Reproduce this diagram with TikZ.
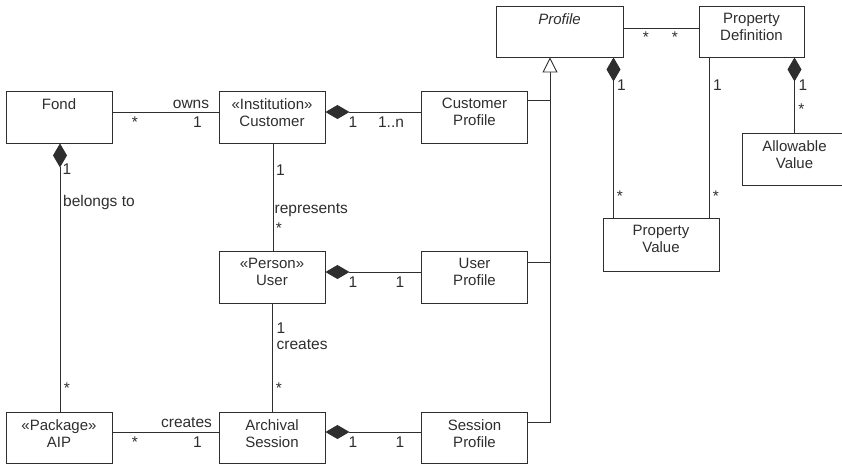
\documentclass[tikz,border=0pt]{standalone}
\usepackage{fontspec}
\setmainfont{Liberation Sans}
\usetikzlibrary{arrows.meta}
\definecolor{ink}{HTML}{2E2E2E}
\begin{document}
\begin{tikzpicture}[x=1pt,y=-1pt,
  box/.style={draw=ink, line width=0.9pt, minimum width=106pt, minimum height=52pt, inner sep=0pt},
  boxtext/.style={anchor=north, inner sep=0pt, align=center, font=\fontsize{15}{17}\selectfont, text=ink},
  lbl/.style={anchor=base, inner sep=0pt, font=\fontsize{15.5}{17}\selectfont, text=ink},
  lblL/.style={lbl, anchor=base west},
  conn/.style={draw=ink, line width=0.9pt},
  comp/.style={conn, {Diamond[length=24pt,width=14pt,fill=ink]}-},
  inherit/.style={conn, -{Triangle[open,length=15pt,width=15pt,fill=white]}},
]
\useasboundingbox (0,0) rectangle (842,464);
\clip (0,0) rectangle (842,464);

% classes
\node[box] (fond)  at (59,117) {};
\node[box] (cust)  at (272,117) {};
\node[box] (cprof) at (474.5,117) {};
\node[box, minimum width=127pt, minimum height=51pt] (profile) at (559.5,31.5) {};
\node[box, minimum width=105pt, minimum height=51pt] (pdef) at (751.5,31.5) {};
\node[box, minimum width=105pt] (aval) at (794.5,159) {};
\node[box, minimum width=116pt, minimum height=53pt] (pval) at (661,244.5) {};
\node[box] (user)  at (272,277) {};
\node[box] (uprof) at (474.5,277) {};
\node[box, minimum height=51pt] (aip)   at (59,437.5) {};
\node[box, minimum height=51pt] (asess) at (272,437.5) {};
\node[box, minimum height=51pt] (sprof) at (474.5,437.5) {};

% class names, set at the top of each box
\node[boxtext] (fond-t)    at ([yshift=-7.5pt]fond.north)    {Fond};
\node[boxtext] (cust-t)    at ([yshift=-7.5pt]cust.north)    {«Institution»\\Customer};
\node[boxtext] (cprof-t)   at ([yshift=-7.5pt]cprof.north)   {Customer\\Profile};
\node[boxtext] (profile-t) at ([yshift=-7.5pt]profile.north) {\textit{Profile}};
\node[boxtext] (pdef-t)    at ([yshift=-7.5pt]pdef.north)    {Property\\Definition};
\node[boxtext] (aval-t)    at ([yshift=-7.5pt]aval.north)    {Allowable\\Value};
\node[boxtext] (pval-t)    at ([yshift=-7.5pt]pval.north)    {Property\\Value};
\node[boxtext] (user-t)    at ([yshift=-7.5pt]user.north)    {«Person»\\User};
\node[boxtext] (uprof-t)   at ([yshift=-7.5pt]uprof.north)   {User\\Profile};
\node[boxtext] (aip-t)     at ([yshift=-7.5pt]aip.north)     {«Package»\\AIP};
\node[boxtext] (asess-t)   at ([yshift=-7.5pt]asess.north)   {Archival\\Session};
\node[boxtext] (sprof-t)   at ([yshift=-7.5pt]sprof.north)   {Session\\Profile};

% associations
\draw[conn] ([yshift=5pt]fond.east) -- ([yshift=5pt]cust.west);
\draw[conn] ([yshift=5.5pt]aip.east) -- ([yshift=5.5pt]asess.west);
\draw[conn] ([xshift=1pt]cust.south) -- ([xshift=1pt]user.north);
\draw[conn] (user.south) -- (asess.north);
\draw[conn] ([yshift=3.5pt]profile.east) -- ([yshift=3.5pt]pdef.west);
\coordinate (pdtop) at ([xshift=48.5pt]pval.north);
\draw[conn] (pdtop |- pdef.south) -- (pdtop);

% compositions
\draw[comp] ([yshift=5pt]cust.east) -- ([yshift=5pt]cprof.west);
\draw[comp] ([yshift=5pt]user.east) -- ([yshift=5pt]uprof.west);
\draw[comp] ([yshift=5.5pt]asess.east) -- ([yshift=5.5pt]sprof.west);
\draw[comp] ([xshift=1pt]fond.south) -- ([xshift=1pt]aip.north);
\coordinate (pvtop) at ([xshift=-47.5pt]pval.north);
\draw[comp] (pvtop |- profile.south) -- (pvtop);
\draw[comp] (aval.north |- pdef.south) -- (aval.north);

% generalization to Profile
\coordinate (genhead) at ([xshift=-9.5pt]profile.south);
\coordinate (cpj) at ([yshift=17pt]cprof.east);
\coordinate (upj) at ([yshift=15pt]uprof.east);
\coordinate (spj) at ([yshift=15.5pt]sprof.east);
\draw[conn] (cpj) -- (cpj -| genhead);
\draw[conn] (upj) -- (upj -| genhead);
\draw[inherit] (spj) -| (genhead);

% role names and multiplicities
\node[lbl] (l-owns)  at (191,108.5) {owns};
\node[lbl] (l-fo-a)  at (135,127) {*};
\node[lbl] (l-fo-b)  at (197.5,127) {1};
\node[lbl] (l-cc-a)  at (353,127) {1};
\node[lbl] (l-cc-b)  at (391,127) {1..n};
\node[lbl] (l-pp-a)  at (646,42) {*};
\node[lbl] (l-pp-b)  at (675,42) {*};
\node[lbl] (l-pv-a)  at (621.5,90) {1};
\node[lbl] (l-pv-b)  at (620,201.5) {*};
\node[lbl] (l-dv-a)  at (717.5,90) {1};
\node[lbl] (l-dv-b)  at (716,201.5) {*};
\node[lbl] (l-av-a)  at (803,90) {1};
\node[lbl] (l-av-b)  at (801.5,114.5) {*};
\node[lbl] (l-fa-a)  at (67,174) {1};
\node[lblL] (l-belongs) at (63,206.5) {belongs to};
\node[lbl] (l-fa-b)  at (67,393.5) {*};
\node[lbl] (l-cu-a)  at (280.5,175) {1};
\node[lblL] (l-repr) at (274.5,213.5) {represents};
\node[lbl] (l-cu-b)  at (279,233.5) {*};
\node[lbl] (l-ua-a)  at (281,333) {1};
\node[lblL] (l-creates1) at (276.5,349.5) {creates};
\node[lbl] (l-ua-b)  at (279,393) {*};
\node[lbl] (l-up-a)  at (353,287) {1};
\node[lbl] (l-up-b)  at (400,287) {1};
\node[lbl] (l-creates2) at (186.5,427.5) {creates};
\node[lbl] (l-aa-a)  at (135,447.5) {*};
\node[lbl] (l-aa-b)  at (197.5,447) {1};
\node[lbl] (l-as-a)  at (353,447) {1};
\node[lbl] (l-as-b)  at (400,447) {1};
\end{tikzpicture}
\end{document}
